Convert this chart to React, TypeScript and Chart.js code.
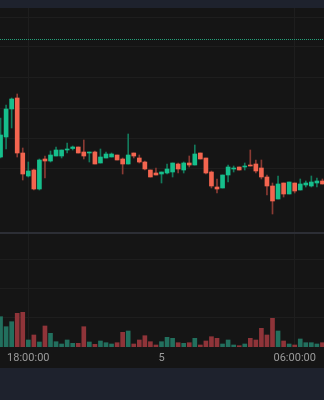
import React, { useEffect, useRef } from "react";
import { Chart, registerables } from "chart.js";

Chart.register(...registerables);

// ---- data (15-minute candles) ----
const opens = [143, 163, 191, 202, 147, 124, 130, 111, 141, 139, 144, 144, 150, 151.5, 153, 148, 147, 148, 137, 142, 143, 145, 141, 136, 147, 142, 138, 130, 127, 126, 127, 128, 136, 130, 137, 135, 147, 142, 128, 113, 112, 125, 131, 133, 133, 135, 136, 132, 123, 114, 101, 117, 106, 117, 110, 115, 114, 117, 119];
const highs = [182, 195, 202, 206, 152, 138, 131, 141, 144, 149, 153, 150, 157, 154, 153, 160, 148, 149, 151, 148, 147, 145, 142, 166, 147, 145, 139, 130, 132, 128, 136, 137, 137, 138, 144, 155, 147, 142, 129, 121, 125, 135, 134, 133, 137, 150, 140, 140, 125, 117, 124, 117, 118, 117, 121, 119, 124, 122, 121];
const lows = [142, 151, 172, 143, 120, 123, 110, 110, 122, 138, 144, 142, 147, 150, 147, 141, 138, 136, 137, 142, 143, 140, 126, 136, 142, 137, 130, 123, 125, 117, 126, 123, 127, 127, 133, 135, 141, 126, 112, 107, 112, 118, 128, 130, 130, 134, 127, 121, 105, 86, 101, 103, 106, 107, 110, 113, 113, 113, 116];
const closes = [165, 191, 201, 147, 126, 129, 111, 140, 139, 145, 150, 150, 151, 153, 147, 144, 148, 136, 143, 146, 146, 140, 136, 145, 144, 138, 131, 123, 125, 128, 131, 137, 131, 137, 135, 146, 141, 127, 114, 111, 125, 133, 132, 130, 134, 134, 129, 123, 114, 99, 116, 106, 118, 109, 116, 117, 118, 119, 116];
const volumes = [303, 203, 253, 337, 347, 70, 120, 50, 210, 137, 53, 30, 70, 37, 37, 203, 50, 27, 60, 43, 30, 43, 147, 160, 30, 70, 113, 53, 20, 53, 97, 87, 43, 37, 43, 87, 20, 60, 103, 87, 30, 70, 20, 13, 30, 87, 70, 187, 120, 287, 160, 60, 30, 20, 80, 43, 43, 30, 43];
const timeTickIndex = [5, 29, 53];
const timeTickLabels = ["18:00:00", "5", "06:00:00"];
const timeGridIndex = [5, 53];
const priceGridLevels = [283, 253, 223, 192, 162, 132];
const volumeGridLevels = [300, 590, 880];
const paneSeparatorLevel = 1140;
const markerPrice = 260.5;

const UP = "#16bf8c";
const DOWN = "#f3654f";
const UP_WICK = "#137a5c";
const DOWN_WICK = "#8a3a33";
const UP_VOL = "#22705e";
const DOWN_VOL = "#8f3439";
const GRID = "#1e1e1e";

export default function App() {
  const ref = useRef<HTMLCanvasElement | null>(null);

  useEffect(() => {
    document.body.style.margin = "0";
    const canvas = ref.current;
    if (!canvas) return;
    const idx = opens.map((_, i) => i);
    const isUp = idx.map((i) => closes[i] >= opens[i]);
    const xMin = -0.099;
    const xMax = 58.279;

    const chart = new Chart(canvas, {
      type: "bar",
      data: {
        datasets: [
          {
            type: "bar",
            order: 0,
            data: idx.map((i) => ({ x: i, y: [opens[i], closes[i]] })) as any,
            backgroundColor: isUp.map((u) => (u ? UP : DOWN)),
            barThickness: 4,
            grouped: false,
            minBarLength: 1,
            yAxisID: "y",
          } as any,
          {
            type: "bar",
            order: 1,
            data: idx.map((i) => ({ x: i, y: [lows[i], highs[i]] })) as any,
            backgroundColor: isUp.map((u) => (u ? UP_WICK : DOWN_WICK)),
            barThickness: 1,
            grouped: false,
            yAxisID: "y",
          } as any,
          {
            type: "bar",
            order: 2,
            data: idx.map((i) => ({ x: i, y: volumes[i] })) as any,
            backgroundColor: isUp.map((u) => (u ? UP_VOL : DOWN_VOL)),
            barThickness: 4,
            grouped: false,
            yAxisID: "yv",
          } as any,
          {
            type: "line",
            order: 3,
            data: [
              { x: xMin, y: markerPrice },
              { x: xMax, y: markerPrice },
            ] as any,
            borderColor: "#23a27b",
            borderWidth: 1,
            borderDash: [1, 1],
            pointRadius: 0,
            yAxisID: "y",
          } as any,
        ],
      },
      options: {
        animation: false,
        responsive: false,
        maintainAspectRatio: false,
        devicePixelRatio: 1,
        layout: { padding: 0 },
        plugins: { legend: { display: false }, tooltip: { enabled: false } },
        scales: {
          x: {
            type: "linear",
            min: xMin,
            max: xMax,
            offset: false,
            afterBuildTicks: (s: any) => {
              s.ticks = timeTickIndex.map((v) => ({ value: v }));
            },
            afterFit: (s: any) => {
              s.height = 21;
            },
            ticks: {
              autoSkip: false,
              maxRotation: 0,
              padding: 5,
              color: "#9b9b9b",
              font: { family: "Roboto", size: 11 },
              callback: (v: any) => {
                const k = timeTickIndex.indexOf(Number(v));
                return k >= 0 ? timeTickLabels[k] : "";
              },
            },
            grid: {
              color: (ctx: any) => (ctx.tick && timeGridIndex.includes(ctx.tick.value) ? GRID : "rgba(0,0,0,0)"),
              drawTicks: false,
              offset: false,
            },
            border: { display: false },
          },
          y: {
            type: "linear",
            position: "right",
            min: -47,
            max: 292,
            afterBuildTicks: (s: any) => {
              s.ticks = priceGridLevels.map((v) => ({ value: v }));
            },
            ticks: { display: false },
            grid: { color: GRID, drawTicks: false },
            border: { display: false },
          },
          yv: {
            type: "linear",
            position: "right",
            min: 0,
            max: 3390,
            afterBuildTicks: (s: any) => {
              s.ticks = [...volumeGridLevels, paneSeparatorLevel].map((v) => ({ value: v }));
            },
            ticks: { display: false },
            grid: {
              drawTicks: false,
              color: (ctx: any) => (ctx.tick && ctx.tick.value === paneSeparatorLevel ? "#2c2e35" : GRID),
              lineWidth: (ctx: any) => (ctx.tick && ctx.tick.value === paneSeparatorLevel ? 2 : 1),
            },
            border: { display: false },
          },
        },
      } as any,
    });
    return () => chart.destroy();
  }, []);

  return (
    <div style={{ position: "relative", width: 324, height: 400, background: "#1e222d", overflow: "hidden" }}>
      <div style={{ position: "absolute", left: 0, top: 8, width: 324, height: 360, background: "#151515" }}>
        <canvas ref={ref} width={324} height={360} style={{ display: "block", width: 324, height: 360 }} />
      </div>
    </div>
  );
}
